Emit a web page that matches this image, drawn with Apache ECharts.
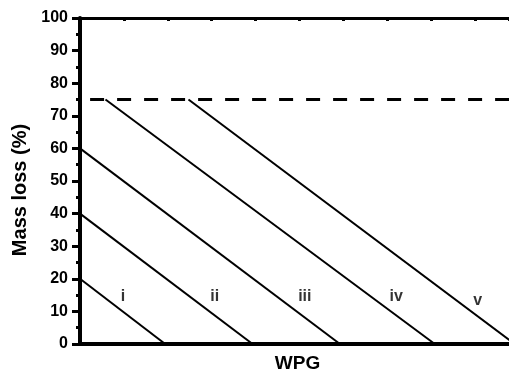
<!DOCTYPE html>
<html>
<head>
<meta charset="utf-8">
<script src="https://cdn.jsdelivr.net/npm/echarts@6/dist/echarts.min.js"></script>
<style>
  html, body { margin: 0; padding: 0; background: #fff; }
  #chart { width: 509px; height: 374px; }
</style>
</head>
<body>
<div id="chart"></div>
<script>
// Mass loss versus WPG for five dosing schedules
const yTicks = [0, 10, 20, 30, 40, 50, 60, 70, 80, 90, 100];
const xMax = 9.77;
const threshold = 75;
const thresholdStart = 0.23;

const lineI   = [[0, 20], [1.94, 0]];
const lineII  = [[0, 40], [3.93, 0]];
const lineIII = [[0, 60], [5.92, 0]];
const lineIV  = [[0.58, 75], [8.08, 0]];
const lineV   = [[2.47, 75], [9.9, 0]];

const curveNames = ['i', 'ii', 'iii', 'iv', 'v'];
const labelX = [0.98, 3.07, 5.12, 7.2, 9.06];
const labelY = [14.4, 14.4, 14.4, 14.4, 13.4];

const font = '"Liberation Sans", Arial, sans-serif';
const chart = echarts.init(document.getElementById('chart'));

const solid = (name, data) => ({
  name, type: 'line', data, symbol: 'none', silent: true,
  lineStyle: { color: '#000', width: 2 }, clip: true
});

chart.setOption({
  animation: false,
  grid: { left: 80, right: 0, top: 18, bottom: 30, outerBoundsMode: 'none', containLabel: false },
  xAxis: [
    {
      type: 'value', position: 'bottom', min: 0, max: xMax, interval: 1,
      axisLine: { lineStyle: { color: '#000', width: 4 } },
      axisTick: { show: false }, axisLabel: { show: false }, splitLine: { show: false },
      name: 'WPG', nameLocation: 'middle', nameGap: 10,
      nameTextStyle: { fontFamily: font, fontWeight: 'bold', fontSize: 19, color: '#000',
        padding: [0, 0, 0, 6] }
    },
    {
      type: 'value', position: 'top', min: 0, max: xMax, interval: 1,
      axisLine: { lineStyle: { color: '#000', width: 3 } },
      axisTick: { show: true, inside: true, length: 3, lineStyle: { color: '#000', width: 3 } },
      axisLabel: { show: false }, splitLine: { show: false }
    }
  ],
  yAxis: {
    type: 'value', min: 0, max: 100, interval: 10,
    axisLine: { show: true, lineStyle: { color: '#000', width: 4 } },
    axisTick: { show: true, length: 8, lineStyle: { color: '#000', width: 3 } },
    minorTick: { show: true, splitNumber: 2, length: 4, lineStyle: { color: '#000', width: 3 } },
    splitLine: { show: false },
    axisLabel: { fontFamily: font, fontWeight: 'bold', fontSize: 16, color: '#000', margin: 12,
      formatter: v => yTicks.includes(v) ? String(v) : '' },
    name: 'Mass loss (%)', nameLocation: 'middle', nameGap: 49,
    nameTextStyle: { fontFamily: font, fontWeight: 'bold', fontSize: 20, color: '#000',
      padding: [0, 18, 0, 0] }
  },
  series: [
    {
      type: 'line', symbol: 'none', silent: true, clip: true,
      data: [[thresholdStart, threshold], [xMax, threshold]],
      lineStyle: { color: '#000', width: 3, type: [14, 13] }
    },
    solid('i', lineI),
    solid('ii', lineII),
    solid('iii', lineIII),
    solid('iv', lineIV),
    solid('v', lineV),
    {
      type: 'scatter', symbolSize: 0, silent: true,
      data: curveNames.map((n, i) => ({ value: [labelX[i], labelY[i]], name: n })),
      label: {
        show: true, position: 'inside', formatter: p => p.name,
        fontFamily: font, fontWeight: 'bold', fontSize: 16, color: '#000'
      }
    }
  ]
});
</script>
</body>
</html>
